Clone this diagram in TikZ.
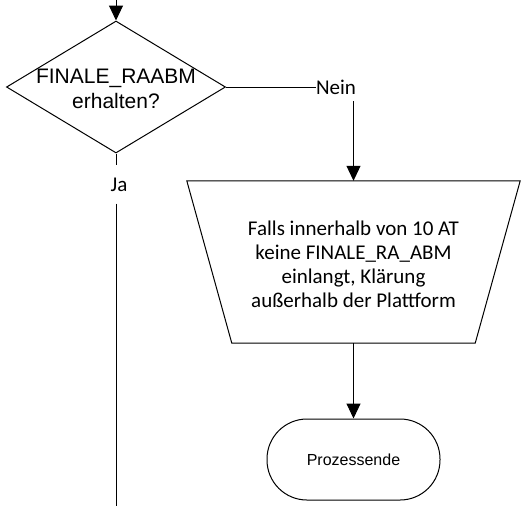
\documentclass[tikz,border=0pt]{standalone}
\usepackage{fontspec}
\setmainfont{Carlito}
\newfontfamily\arialf{Liberation Sans}
\usetikzlibrary{shapes.geometric,arrows.meta,calc}
\begin{document}
\begin{tikzpicture}[x=1pt,y=-1pt,
  line/.style={draw=black,line width=1pt},
  arr/.style={line,-{Triangle[length=15pt,width=14pt]}},
  decision/.style={diamond,draw=black,line width=1pt,inner sep=0pt,minimum width=219pt,minimum height=132pt},
  proctext/.style={align=center,font=\fontsize{21}{24}\selectfont,inner sep=0pt},
  termbox/.style={draw=black,line width=1pt,rounded corners=40pt,minimum width=173pt,minimum height=81pt,font=\arialf\fontsize{16}{19}\selectfont},
  lbl/.style={font=\fontsize{21}{24}\selectfont,inner xsep=0pt,inner ysep=6.5pt}]
\useasboundingbox (0,0) rectangle (526,507);
\coordinate (start) at (116,0);
\node[decision] (d) at (116,87) {};
\node[align=center,font=\arialf\fontsize{21}{25}\selectfont,inner sep=0pt] (dt) at (116,89) {FINALE\_RAABM\\erhalten?};
\node[lbl] (nein) at (336,87) {Nein};
\node[lbl,inner ysep=12pt] (ja) at (119,184.5) {Ja};
\node[minimum width=333pt,minimum height=162pt,inner sep=0pt] (proc) at (353.5,262) {};
\draw[line] (proc.north west) -- (proc.north east) -- ($(proc.south east)+(-45,0)$) -- ($(proc.south west)+(45,0)$) -- cycle;
\node[proctext] (pt) at (353.5,264) {Falls innerhalb von 10 AT\\keine FINALE\_RA\_ABM\\einlangt, Klärung\\außerhalb der Plattform};
\node[termbox] (end) at (353.5,459.5) {Prozessende};
\coordinate (jaend) at (116,506);
\draw[arr] (start) -- (d.north);
\draw[line] (d.east) -- (nein.west);
\draw[arr] (nein.south -| proc.north) -- (proc.north);
\draw[line] (d.south) -- (d.south |- ja.north);
\draw[line] (d.south |- ja.south) -- (jaend);
\draw[arr] (proc.south) -- (end.north);
\end{tikzpicture}
\end{document}
